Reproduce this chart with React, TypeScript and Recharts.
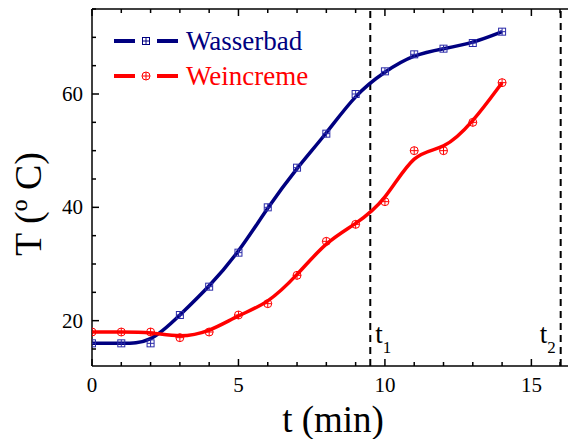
import { LineChart, Line, XAxis, YAxis, ReferenceLine, Customized } from 'recharts'

const minutes = [0, 1, 2, 3, 4, 5, 6, 7, 8, 9, 10, 11, 12, 13, 14]
const wasserbad = [16, 16, 16, 21, 26, 32, 40, 47, 53, 60, 64, 67, 68, 69, 71]
const weincreme = [18, 18, 18, 17, 18, 21, 23, 28, 34, 37, 41, 50, 50, 55, 62]

const xTicks = [0, 1, 2, 3, 4, 5, 6, 7, 8, 9, 10, 11, 12, 13, 14, 15, 16]
const xLabelled = [0, 5, 10, 15]
const yTicks = [15, 20, 25, 30, 35, 40, 45, 50, 55, 60, 65, 70, 75]
const yLabelled = [20, 40, 60]

const markTimes = [9.5, 16]
const markSubs = ['1', '2']

const BLUE = '#000080'
const RED = '#ff0000'
const FONT = "'Liberation Serif', 'Times New Roman', serif"

const chartData = minutes.map((t, i) => ({
  t,
  wasserbad: wasserbad[i],
  weincreme: weincreme[i],
}))

function SquareMark({ cx, cy, color }: any) {
  if (cx == null || cy == null) return null
  return (
    <g stroke={color} strokeWidth={1} fill="none">
      <rect x={cx - 3.5} y={cy - 3.5} width={7} height={7} />
      <line x1={cx - 3.5} x2={cx + 3.5} y1={cy} y2={cy} />
      <line x1={cx} x2={cx} y1={cy - 3.5} y2={cy + 3.5} />
    </g>
  )
}

function CircleMark({ cx, cy, color }: any) {
  if (cx == null || cy == null) return null
  return (
    <g stroke={color} strokeWidth={1} fill="none">
      <circle cx={cx} cy={cy} r={4} />
      <line x1={cx - 4} x2={cx + 4} y1={cy} y2={cy} />
      <line x1={cx} x2={cx} y1={cy - 4} y2={cy + 4} />
    </g>
  )
}

function BottomTick({ x, y, payload }: any) {
  const major = xLabelled.includes(payload.value)
  return (
    <g>
      <line x1={x} x2={x} y1={y} y2={y - (major ? 7 : 4)} stroke="#000" strokeWidth={1.5} />
      {major && (
        <text x={x} y={y + 26} textAnchor="middle" fontSize={21} fontFamily={FONT} fill="#000">
          {payload.value}
        </text>
      )}
    </g>
  )
}

function TopTick({ x, y, payload }: any) {
  const major = xLabelled.includes(payload.value)
  return <line x1={x} x2={x} y1={y} y2={y + (major ? 7 : 4)} stroke="#000" strokeWidth={1.5} />
}

function LeftTick({ x, y, payload }: any) {
  const major = yLabelled.includes(payload.value)
  return (
    <g>
      <line x1={x} x2={x + (major ? 7 : 4)} y1={y} y2={y} stroke="#000" strokeWidth={1.5} />
      {major && (
        <text x={x - 9} y={y + 7} textAnchor="end" fontSize={21} fontFamily={FONT} fill="#000">
          {payload.value}
        </text>
      )}
    </g>
  )
}

function XTitle({ viewBox }: any) {
  return (
    <text x={viewBox.x + viewBox.width / 2 + 3} y={viewBox.y + 66} textAnchor="middle" fontSize={37} fontFamily={FONT} fill="#000">
      t (min)
    </text>
  )
}

function YTitle({ viewBox }: any) {
  const cx = viewBox.x + 41
  const cy = viewBox.y + 195
  return (
    <text x={cx} y={cy} transform={`rotate(-90, ${cx}, ${cy})`} textAnchor="middle" fontSize={38} fontFamily={FONT} fill="#000">
      T (º C)
    </text>
  )
}

function TimeMark({ viewBox, sub, side }: any) {
  const right = side === 'right'
  return (
    <text
      x={right ? viewBox.x + 5 : viewBox.x - 5}
      y={343}
      textAnchor={right ? 'start' : 'end'}
      fontSize={27}
      fontFamily={FONT}
      fill="#000"
    >
      t
      <tspan fontSize={17} dy={10}>{sub}</tspan>
    </text>
  )
}

const legendRows = [
  { name: 'Wasserbad', color: BLUE, Mark: SquareMark },
  { name: 'Weincreme', color: RED, Mark: CircleMark },
]

function SeriesLegend() {
  return (
    <g>
      {legendRows.map((r, i) => {
        const cy = 41 + i * 35
        return (
          <g key={r.name}>
            <line x1={114} x2={135} y1={cy} y2={cy} stroke={r.color} strokeWidth={4} />
            <r.Mark cx={146} cy={cy} color={r.color} />
            <line x1={157} x2={178} y1={cy} y2={cy} stroke={r.color} strokeWidth={4} />
            <text x={186} y={cy + 9} fontSize={27} fontFamily={FONT} fill={r.color}>
              {r.name}
            </text>
          </g>
        )
      })}
    </g>
  )
}

export default function App() {
  return (
    <div style={{ position: 'absolute', left: 0, top: 0 }}>
      <LineChart width={568} height={439} data={chartData} margin={{ top: 0, right: 0, bottom: 0, left: 0 }}>
        <XAxis
          dataKey="t"
          type="number"
          domain={[0, 16.25]}
          ticks={xTicks}
          allowDataOverflow
          height={73}
          tickSize={0}
          tickMargin={0}
          tickLine={false}
          tick={<BottomTick />}
          axisLine={{ stroke: '#000', strokeWidth: 1.5 }}
          label={<XTitle />}
        />
        <XAxis
          xAxisId="top"
          orientation="top"
          dataKey="t"
          type="number"
          domain={[0, 16.25]}
          ticks={xTicks}
          allowDataOverflow
          height={9}
          tickSize={0}
          tickMargin={0}
          tickLine={false}
          tick={<TopTick />}
          axisLine={{ stroke: '#000', strokeWidth: 1.5 }}
        />
        <YAxis
          type="number"
          domain={[12, 75]}
          ticks={yTicks}
          allowDataOverflow
          width={92}
          tickSize={0}
          tickMargin={0}
          tickLine={false}
          tick={<LeftTick />}
          axisLine={{ stroke: '#000', strokeWidth: 1.5 }}
          label={<YTitle />}
        />
        {markTimes.map((t, i) => (
          <ReferenceLine
            key={t}
            x={t}
            stroke="#000"
            strokeWidth={2}
            strokeDasharray="7 5"
            label={<TimeMark sub={markSubs[i]} side={i === 0 ? 'right' : 'left'} />}
          />
        ))}
        <Line
          type="basis"
          dataKey="wasserbad"
          stroke={BLUE}
          strokeWidth={3.5}
          isAnimationActive={false}
          dot={(p: any) => <SquareMark key={`w${p.index}`} cx={p.cx} cy={p.cy} color="#2a2aa8" />}
        />
        <Line
          type="basis"
          dataKey="weincreme"
          stroke={RED}
          strokeWidth={3.5}
          isAnimationActive={false}
          dot={(p: any) => <CircleMark key={`r${p.index}`} cx={p.cx} cy={p.cy} color={RED} />}
        />
        <Customized component={SeriesLegend} />
      </LineChart>
    </div>
  )
}
